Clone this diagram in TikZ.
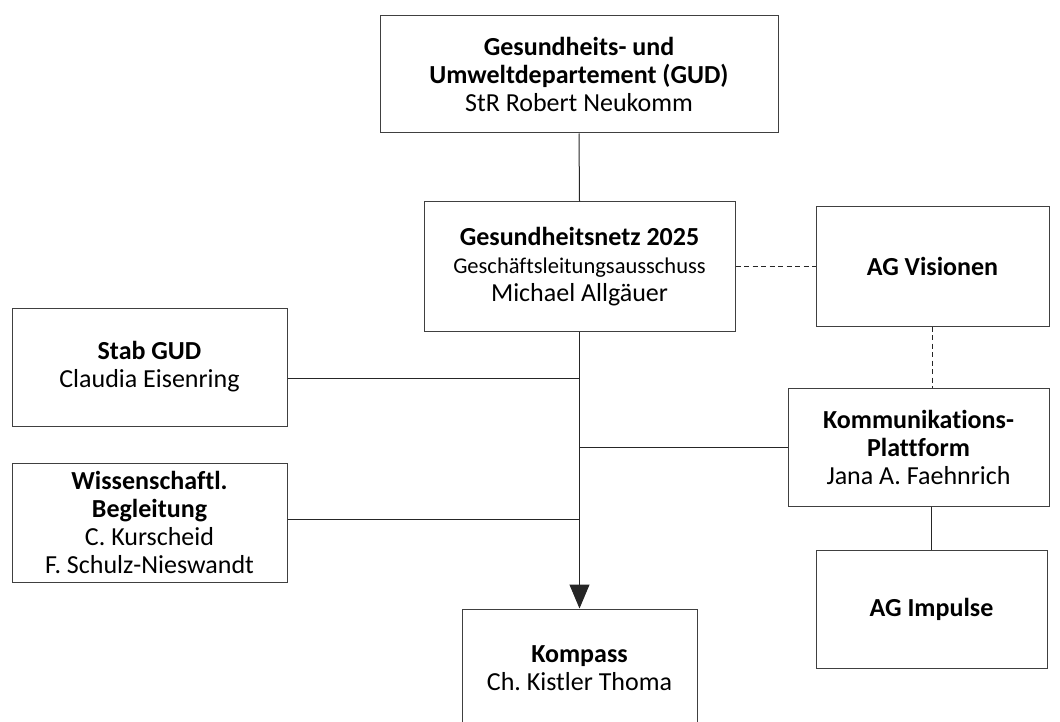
\documentclass[tikz,border=0pt]{standalone}
\usepackage{fontspec}
\setmainfont[Ligatures=NoCommon]{Carlito}
\usetikzlibrary{arrows.meta}
\frenchspacing

\tikzset{
  orgbox/.style={draw=black!75, line width=1pt, fill=white, align=center,
    inner sep=0pt, font=\fontsize{26}{28}\selectfont},
  link/.style={line width=1pt, draw=black!85},
  dotlink/.style={link, dash pattern=on 5pt off 3.5pt}
}

\begin{document}
\begin{tikzpicture}[x=1pt, y=-1pt]
  \useasboundingbox (0,0) rectangle (1060,722);
  \clip (0,0) rectangle (1060,722);

  % boxes
  \node[orgbox, minimum width=398pt, minimum height=117pt] (gud) at (579,74.5)
    {\textbf{Gesundheits- und}\\ \textbf{Umweltdepartement (GUD)}\\ StR Robert Neukomm};
  \node[orgbox, minimum width=311pt, minimum height=129pt] (netz) at (579.5,266.5)
    {\textbf{Gesundheitsnetz 2025}\\ {\fontsize{22.5}{25}\selectfont Geschäftsleitungsausschuss}\\ Michael Allgäuer};
  \node[orgbox, minimum width=233pt, minimum height=119pt] (vis) at (932.5,266.5)
    {\textbf{AG Visionen}};
  \node[orgbox, minimum width=275pt, minimum height=118pt] (stab) at (149.5,367)
    {\textbf{Stab GUD}\\ Claudia Eisenring};
  \node[orgbox, minimum width=275pt, minimum height=119pt] (wiss) at (149.5,522.5)
    {\textbf{Wissenschaftl.}\\ \textbf{Begleitung}\\ C. Kurscheid\\ F. Schulz-Nieswandt};
  \node[orgbox, minimum width=261pt, minimum height=118pt] (komm) at (918.5,447)
    {\textbf{Kommunikations-}\\ \textbf{Plattform}\\ Jana A. Faehnrich};
  \node[orgbox, minimum width=231pt, minimum height=118pt] (imp) at (931.5,609)
    {\textbf{AG Impulse}};
  \node[orgbox, minimum width=235pt, minimum height=118pt] (komp) at (579.5,668)
    {\textbf{Kompass}\\ Ch. Kistler Thoma};

  % connectors
  \coordinate (s1) at ([yshift=-11pt]stab.east);
  \coordinate (w1) at ([yshift=3.5pt]wiss.east);
  \draw[link] (gud.south) -- (netz.north);
  \draw[link, -{Triangle[width=20pt,length=24pt]}] (netz.south) -- (komp.north);
  \draw[link] (s1) -- (s1 -| netz.south);
  \draw[link] (w1) -- (w1 -| netz.south);
  \draw[link] (komm.west) -- (komm.west -| netz.south);
  \draw[link] (imp.north |- komm.south) -- (imp.north);
  \draw[dotlink] (netz.east) -- (vis.west);
  \draw[dotlink] (vis.south) -- (vis.south |- komm.north);
\end{tikzpicture}
\end{document}
